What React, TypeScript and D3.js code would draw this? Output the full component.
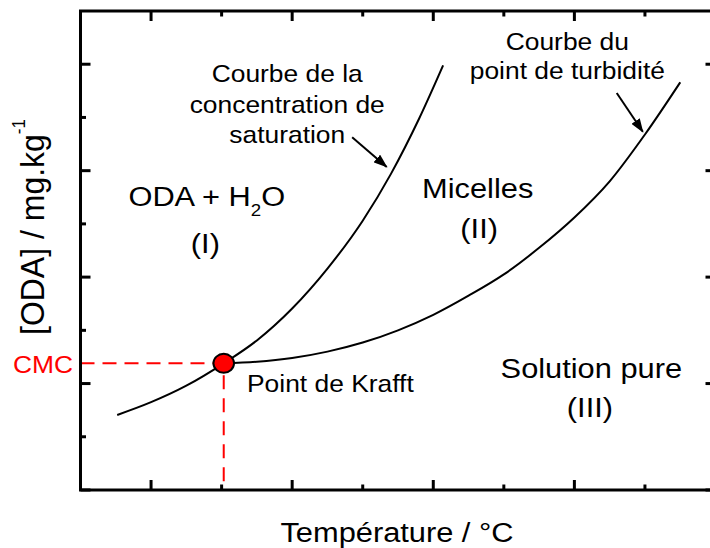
import React from "react";
import * as d3 from "d3";

// Saturation concentration curve (temperature units, concentration units)
const saturationT = [0.52, 1.0, 1.5, 2.03, 2.5, 3.0, 3.5, 4.0, 4.4, 4.8, 5.14];
const saturationC = [1.41, 1.65, 1.96, 2.38, 2.81, 3.41, 4.16, 5.06, 5.94, 6.98, 7.98];
// Cloud point (turbidity) curve
const turbidityT = [2.03, 2.5, 3.0, 3.5, 4.0, 4.5, 5.0, 5.5, 6.0, 6.5, 7.0, 7.5, 8.0, 8.5];
const turbidityC = [2.38, 2.41, 2.48, 2.60, 2.77, 3.00, 3.29, 3.65, 4.05, 4.55, 5.12, 5.80, 6.68, 7.66];
const krafftT = 2.03;
const cmc = 2.38;

const xMajor = [1, 3, 5, 7, 9];
const xMinor = [2, 4, 6, 8];
const yMajor = [0, 2, 4, 6, 8];
const yMinor = [1, 3, 5, 7];

const W = 710, H = 548;
const FONT = "'Liberation Sans', Arial, sans-serif";
const SX = 1.1;

export default function App() {
  const x = d3.scaleLinear().domain([0, 9]).range([80.5, 715.5]);
  const y = d3.scaleLinear().domain([0, 9]).range([490, 11]);
  const line = d3.line<[number, number]>().x(d => x(d[0])).y(d => y(d[1])).curve(d3.curveMonotoneX);
  const sat = line(saturationT.map((t, i) => [t, saturationC[i]]) as [number, number][]) || "";
  const turb = line(turbidityT.map((t, i) => [t, turbidityC[i]]) as [number, number][]) || "";

  const x0 = x(0), x1 = x(9), y0 = y(0), y1 = y(9);
  const T = (px: number, py: number, txt: React.ReactNode, size: number, anchor: string = "middle", fill = "#000") => (
    <text transform={`translate(${px},${py}) scale(${SX},1)`} fontSize={size} textAnchor={anchor} fill={fill} fontFamily={FONT}>{txt}</text>
  );

  return (
    <svg width={W} height={H} style={{ position: "fixed", left: 0, top: 0, background: "#fff" }}>
      <defs>
        <marker id="ah" viewBox="0 0 14 10" refX={13} refY={5} markerWidth={14} markerHeight={10} markerUnits="userSpaceOnUse" orient="auto">
          <path d="M0,0 L14,5 L0,10 Z" fill="#000" />
        </marker>
      </defs>
      <rect width={W} height={H} fill="#fff" />

      {/* CMC dashed guides */}
      <line x1={x0} y1={y(cmc)} x2={x(krafftT)} y2={y(cmc)} stroke="#ff0000" strokeWidth={2} strokeDasharray="14,8" />
      <line x1={x(krafftT)} y1={y(cmc)} x2={x(krafftT)} y2={y0} stroke="#ff0000" strokeWidth={2} strokeDasharray="14,9" strokeDashoffset={-12} />

      {/* curves */}
      <path d={sat} fill="none" stroke="#000" strokeWidth={2} />
      <path d={turb} fill="none" stroke="#000" strokeWidth={2} />

      {/* Krafft point */}
      <ellipse cx={x(krafftT)} cy={y(cmc)} rx={10.3} ry={9.5} fill="#ff0000" stroke="#000" strokeWidth={2} />

      {/* arrows */}
      <line x1={x(3.85)} y1={y(6.63)} x2={x(4.34)} y2={y(6.07)} stroke="#000" strokeWidth={2} markerEnd="url(#ah)" />
      <line x1={x(7.60)} y1={y(7.46)} x2={x(7.97)} y2={y(6.73)} stroke="#000" strokeWidth={2} markerEnd="url(#ah)" />

      {/* frame */}
      <rect x={x0} y={y1} width={x1 - x0} height={y0 - y1} fill="none" stroke="#000" strokeWidth={3} />
      {xMajor.map(v => (
        <g key={"xM" + v}>
          <line x1={x(v)} x2={x(v)} y1={y0} y2={y0 - 10} stroke="#000" strokeWidth={3} />
          <line x1={x(v)} x2={x(v)} y1={y1} y2={y1 + 10} stroke="#000" strokeWidth={3} />
        </g>
      ))}
      {xMinor.map(v => (
        <g key={"xm" + v}>
          <line x1={x(v)} x2={x(v)} y1={y0} y2={y0 - 5.5} stroke="#000" strokeWidth={3} />
          <line x1={x(v)} x2={x(v)} y1={y1} y2={y1 + 5.5} stroke="#000" strokeWidth={3} />
        </g>
      ))}
      {yMajor.map(v => (
        <g key={"yM" + v}>
          <line y1={y(v)} y2={y(v)} x1={x0} x2={x0 + 10} stroke="#000" strokeWidth={3} />
          <line y1={y(v)} y2={y(v)} x1={x1} x2={x1 - 10} stroke="#000" strokeWidth={3} />
        </g>
      ))}
      {yMinor.map(v => (
        <g key={"ym" + v}>
          <line y1={y(v)} y2={y(v)} x1={x0} x2={x0 + 5.5} stroke="#000" strokeWidth={3} />
          <line y1={y(v)} y2={y(v)} x1={x1} x2={x1 - 5.5} stroke="#000" strokeWidth={3} />
        </g>
      ))}

      {/* annotations */}
      {T(x(2.93), y(7.67), "Courbe de la", 24)}
      {T(x(2.93), y(7.09), "concentration de", 24)}
      {T(x(2.93), y(6.52), "saturation", 24)}
      {T(x(6.90), y(8.27), "Courbe du", 24)}
      {T(x(6.90), y(7.72), "point de turbidité", 24)}
      {T(x(1.79), y(5.34), <>ODA + H<tspan fontSize={17} dy={10}>2</tspan><tspan dy={-10}>O</tspan></>, 28)}
      {T(x(1.77), y(4.45), "(I)", 28)}
      {T(x(5.63), y(5.49), "Micelles", 28)}
      {T(x(5.65), y(4.73), "(II)", 28)}
      {T(x(2.36), y(1.84), "Point de Krafft", 24, "start")}
      {T(x(7.24), y(2.10), "Solution pure", 28)}
      {T(x(7.22), y(1.37), "(III)", 28)}
      {T(73, y(cmc) + 10, "CMC", 24, "end", "#ff0000")}

      {/* axis titles */}
      {T(397, 542, "Température / °C", 28)}
      <text transform={`translate(44,335) rotate(-90) scale(1,1.05)`} fontSize={32} fontFamily={FONT} fill="#000">
        [ODA] / mg.kg<tspan fontSize={17} dy={-18}>-1</tspan>
      </text>
    </svg>
  );
}
